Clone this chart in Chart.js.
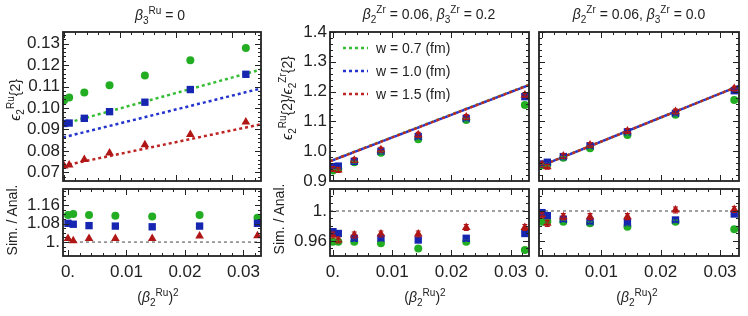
<!DOCTYPE html>
<html>
<head>
<meta charset="utf-8">
<script src="https://cdn.jsdelivr.net/npm/chart.js@4.4.1/dist/chart.umd.min.js"></script>
<style>
  html, body { margin: 0; padding: 0; background: #fff; }
  #wrap { position: relative; width: 748px; height: 316px; overflow: hidden;
          font-family: "Liberation Sans", Arial, sans-serif; color: #222; }
  canvas { position: absolute; left: 0; top: 0; }
  .t { position: absolute; white-space: nowrap; font-size: 14px; transform: translate(-50%, -50%); }
  .r { transform: translate(-50%, -50%) rotate(-90deg); }
  .t sub, .t sup { font-size: 10px; line-height: 0; }
  i { font-style: italic; }
</style>
</head>
<body>
<div id="wrap">
  <canvas id="c1t" width="748" height="316"></canvas>
  <canvas id="c1b" width="748" height="316"></canvas>
  <canvas id="c2t" width="748" height="316"></canvas>
  <canvas id="c2b" width="748" height="316"></canvas>
  <canvas id="c3t" width="748" height="316"></canvas>
  <canvas id="c3b" width="748" height="316"></canvas>

  <div class="t" style="left:160px;top:15px"><i>β</i><sub>3</sub><sup>Ru</sup> = 0</div>
  <div class="t" style="left:429px;top:14px"><i>β</i><sub>2</sub><sup>Zr</sup> = 0.06, <i>β</i><sub>3</sub><sup>Zr</sup> = 0.2</div>
  <div class="t" style="left:639px;top:14px"><i>β</i><sub>2</sub><sup>Zr</sup> = 0.06, <i>β</i><sub>3</sub><sup>Zr</sup> = 0.0</div>

  <div class="t r" style="left:15px;top:100px"><i>ϵ</i><sub>2</sub><sup>Ru</sup>{2}</div>
  <div class="t r" style="left:287px;top:98px"><i>ϵ</i><sub>2</sub><sup>Ru</sup>{2}/<i>ϵ</i><sub>2</sub><sup>Zr</sup>{2}</div>
  <div class="t r" style="left:12px;top:220px">Sim. / Anal.</div>
  <div class="t r" style="left:279px;top:219px">Sim. / Anal.</div>

  <div class="t" style="left:158px;top:297px">(<i>β</i><sub>2</sub><sup>Ru</sup>)<sup>2</sup></div>
  <div class="t" style="left:425px;top:297px">(<i>β</i><sub>2</sub><sup>Ru</sup>)<sup>2</sup></div>
  <div class="t" style="left:637px;top:297px">(<i>β</i><sub>2</sub><sup>Ru</sup>)<sup>2</sup></div>
</div>

<script>
// x values: (beta2^Ru)^2
const xRu = [0, 0.0009, 0.0036, 0.0081, 0.0144, 0.0225, 0.0324];
const widths = ['w = 0.7 (fm)', 'w = 1.0 (fm)', 'w = 1.5 (fm)'];

// panel 1 (beta3^Ru = 0): eps2^Ru{2}
const p1Green = [0.1036, 0.1049, 0.1072, 0.1106, 0.1151, 0.1223, 0.1280];
const p1Blue  = [0.0928, 0.0930, 0.0952, 0.0983, 0.1027, 0.1086, 0.1157];
const p1Red   = [0.0730, 0.0735, 0.0760, 0.0790, 0.0829, 0.0877, 0.0935];
const p1FitX  = [-0.0002, 0.0351];
const p1FitGreen = [0.0925, 0.1179];
const p1FitBlue  = [0.0863, 0.1091];
const p1FitRed   = [0.0731, 0.0924];
// panel 1 ratio sim / anal
const p1rGreen = [1.117, 1.121, 1.117, 1.114, 1.110, 1.117, 1.105];
const p1rBlue  = [1.081, 1.077, 1.071, 1.069, 1.066, 1.069, 1.081];
const p1rRed   = [1.016, 1.006, 1.016, 1.016, 1.016, 1.026, 1.027];

// panel 2 (beta2^Zr = 0.06, beta3^Zr = 0.2): ratio Ru/Zr
const p2Green = [0.935, 0.940, 0.963, 0.995, 1.040, 1.105, 1.155];
const p2Blue  = [0.948, 0.950, 0.966, 1.000, 1.049, 1.110, 1.183];
const p2Red   = [0.940, 0.937, 0.970, 1.005, 1.055, 1.115, 1.189];
const p2FitX  = [-0.0005, 0.0331];
const p2FitGreen = [0.967, 1.223];
const p2FitBlue  = [0.966, 1.222];
const p2FitRed   = [0.966, 1.222];
const p2rGreen = [0.959, 0.959, 0.959, 0.957, 0.950, 0.959, 0.948];
const p2rBlue  = [0.9724, 0.970, 0.9636, 0.9636, 0.9613, 0.9636, 0.970];
const p2rRed   = [0.968, 0.9613, 0.968, 0.9693, 0.9693, 0.978, 0.978];

// panel 3 (beta2^Zr = 0.06, beta3^Zr = 0.0)
const p3Green = [0.953, 0.955, 0.978, 1.010, 1.054, 1.122, 1.172];
const p3Blue  = [0.957, 0.963, 0.982, 1.018, 1.065, 1.127, 1.203];
const p3Red   = [0.955, 0.948, 0.984, 1.021, 1.068, 1.133, 1.210];
const p3FitX  = [-0.0005, 0.0332];
const p3FitGreen = [0.948, 1.219];
const p3FitBlue  = [0.948, 1.219];
const p3FitRed   = [0.948, 1.219];
const p3rGreen = [0.9858, 0.986, 0.9858, 0.9836, 0.979, 0.9858, 0.9756];
const p3rBlue  = [0.9978, 0.9938, 0.989, 0.9858, 0.9844, 0.988, 0.996];
const p3rRed   = [0.9947, 0.9836, 0.9924, 0.9924, 0.9924, 1.0013, 1.002];

// error bar half sizes [green, blue, red]
const errTop   = [0.004, 0.005, 0.008];
const errRatio = [0.002, 0.003, 0.004];

// tick labels
const xTickVals = [0, 0.01, 0.02, 0.03];
const xTickText = ['0.', '0.01', '0.02', '0.03'];
const y1TickVals = [0.07, 0.08, 0.09, 0.10, 0.11, 0.12, 0.13];
const y1TickText = ['0.07', '0.08', '0.09', '0.10', '0.11', '0.12', '0.13'];
const y2TickVals = [0.9, 1.0, 1.1, 1.2, 1.3, 1.4];
const y2TickText = ['0.9', '1.0', '1.1', '1.2', '1.3', '1.4'];
const r1TickVals = [1, 1.08, 1.16];
const r1TickText = ['1.', '1.08', '1.16'];
const r2TickVals = [0.96, 1];
const r2TickText = ['0.96', '1.'];

const W = 748, H = 316;
const pointColors = ['#23ad23', '#1626b0', '#b01616'];
const lineColors = ['#36bd36', '#2434cc', '#bd2424'];
const shapes = ['circle', 'rect', 'triangle'];
const radii = [4, 5.2, 5];
const font = { family: '"Liberation Sans", Arial, sans-serif', size: 17 };

function pts(vals, i, err) {
  return {
    data: xRu.map((x, k) => ({ x, y: vals[k] })),
    showLine: false, pointStyle: shapes[i], pointRadius: radii[i],
    backgroundColor: pointColors[i], borderColor: pointColors[i], borderWidth: 0,
    order: 3 - i, err: err ? err[i] : 0, errColor: pointColors[i]
  };
}

function fit(xs, ys, color, width, dash, offset, order) {
  return {
    data: xs.map((x, k) => ({ x, y: ys[k] })),
    showLine: true, pointRadius: 0, borderColor: color, borderWidth: width,
    borderDash: dash, borderDashOffset: offset || 0, order: order || 10, fill: false
  };
}

function ticksBetween(min, max, step) {
  const out = [];
  for (let v = Math.ceil(min / step - 1e-6) * step; v <= max + 1e-9; v += step) out.push(v);
  return out;
}

// frame with inward major/minor ticks, drawn from the scales
const framePlugin = {
  id: 'frame',
  afterDraw(chart, args, o) {
    const { ctx, chartArea: a, scales: { x, y } } = chart;
    ctx.save();
    ctx.strokeStyle = '#222';
    ctx.lineWidth = 1;
    const drawX = (vals, len) => vals.forEach(v => {
      const px = Math.round(x.getPixelForValue(v)) + 0.5;
      if (px < a.left || px > a.right) return;
      ctx.beginPath();
      ctx.moveTo(px, a.bottom); ctx.lineTo(px, a.bottom - len);
      ctx.moveTo(px, a.top); ctx.lineTo(px, a.top + len);
      ctx.stroke();
    });
    const drawY = (vals, len) => vals.forEach(v => {
      const py = Math.round(y.getPixelForValue(v)) + 0.5;
      if (py < a.top || py > a.bottom) return;
      ctx.beginPath();
      ctx.moveTo(a.left, py); ctx.lineTo(a.left + len, py);
      ctx.moveTo(a.right, py); ctx.lineTo(a.right - len, py);
      ctx.stroke();
    });
    drawX(ticksBetween(x.min, x.max, o.xMinor), 3);
    drawX(ticksBetween(x.min, x.max, 0.01), 6);
    drawY(ticksBetween(y.min, y.max, o.yMinor), 3);
    drawY(o.yMajor, 6);
    ctx.lineWidth = 1.8;
    ctx.strokeRect(a.left, a.top, a.right - a.left, a.bottom - a.top);

    // legend inside the plot
    if (o.legend) {
      o.legend.forEach((txt, i) => {
        const ly = a.top + 16 + i * 23;
        ctx.strokeStyle = lineColors[i];
        ctx.lineWidth = 2.5;
        ctx.setLineDash([3, 3]);
        ctx.beginPath(); ctx.moveTo(a.left + 13, ly); ctx.lineTo(a.left + 38, ly); ctx.stroke();
        ctx.setLineDash([]);
        ctx.fillStyle = '#222';
        ctx.font = '14px "Liberation Sans", Arial, sans-serif';
        ctx.textBaseline = 'middle';
        ctx.fillText(txt, a.left + 46, ly + 1);
      });
    }
    ctx.restore();
  }
};

// vertical error bars from the dataset's err value
const errPlugin = {
  id: 'errbars',
  afterDatasetsDraw(chart) {
    const { ctx, scales: { y } } = chart;
    ctx.save();
    chart.data.datasets.forEach((ds, di) => {
      if (!ds.err) return;
      const meta = chart.getDatasetMeta(di);
      ctx.strokeStyle = ds.errColor;
      ctx.lineWidth = 1.2;
      meta.data.forEach((p, k) => {
        const v = ds.data[k].y;
        const y0 = y.getPixelForValue(v - ds.err), y1 = y.getPixelForValue(v + ds.err);
        ctx.beginPath();
        ctx.moveTo(p.x, y0); ctx.lineTo(p.x, y1);
        ctx.moveTo(p.x - 2.5, y0); ctx.lineTo(p.x + 2.5, y0);
        ctx.moveTo(p.x - 2.5, y1); ctx.lineTo(p.x + 2.5, y1);
        ctx.stroke();
      });
    });
    ctx.restore();
  }
};

function panel(id, box, c) {
  const [L, T, R, B] = box;
  const yw = 60, xh = 30;
  new Chart(document.getElementById(id), {
    type: 'scatter',
    data: { datasets: c.datasets },
    options: {
      responsive: false,
      animation: false,
      devicePixelRatio: 1,
      layout: { padding: { left: L - yw, top: T, right: W - R, bottom: H - B - xh } },
      plugins: {
        legend: { display: false },
        tooltip: { enabled: false },
        frame: { xMinor: 0.002, yMinor: c.yMinor, yMajor: c.yTicks, legend: c.legend }
      },
      scales: {
        x: {
          type: 'linear', min: c.xMin, max: c.xMax,
          grid: { display: false, drawTicks: false }, border: { display: false },
          ticks: { display: !!c.xLabels, autoSkip: false, maxRotation: 0, padding: 6, font, color: '#222',
                   callback: (v, i) => xTickText[i] },
          afterBuildTicks: s => { s.ticks = xTickVals.map(v => ({ value: v })); },
          afterFit: s => { s.height = xh; s.paddingLeft = 0; s.paddingRight = 0; }
        },
        y: {
          type: 'linear', min: c.yMin, max: c.yMax,
          grid: { display: false, drawTicks: false }, border: { display: false },
          ticks: { display: !!c.yLabels, autoSkip: false, padding: 3, font, color: '#222',
                   callback: (v, i) => c.yText[i] },
          afterBuildTicks: s => { s.ticks = c.yTicks.map(v => ({ value: v })); },
          afterFit: s => { s.width = yw; s.paddingTop = 0; s.paddingBottom = 0; }
        }
      }
    },
    plugins: [errPlugin, framePlugin]
  });
}

const unityColor = '#8a8a8a';

// panel 1 top
panel('c1t', [63, 32, 261, 181], {
  xMin: -0.0002, xMax: 0.0351, yMin: 0.066, yMax: 0.1354,
  yTicks: y1TickVals, yText: y1TickText, yMinor: 0.002, yLabels: true,
  datasets: [
    fit(p1FitX, p1FitGreen, lineColors[0], 2.5, [3, 3]),
    fit(p1FitX, p1FitBlue, lineColors[1], 2.5, [3, 3]),
    fit(p1FitX, p1FitRed, lineColors[2], 2.5, [3, 3]),
    pts(p1Green, 0), pts(p1Blue, 1), pts(p1Red, 2)
  ]
});
// panel 1 bottom
panel('c1b', [63, 189, 261, 256], {
  xMin: -0.00085, xMax: 0.033, yMin: 0.94, yMax: 1.229,
  yTicks: r1TickVals, yText: r1TickText, yMinor: 0.02, yLabels: true, xLabels: true,
  datasets: [
    fit([0, 0.033], [1, 1], unityColor, 1.6, [3, 3]),
    pts(p1rGreen, 0), pts(p1rBlue, 1), pts(p1rRed, 2)
  ]
});
// panel 2 top: fits nearly coincide, red drawn over green, blue fills the gaps
panel('c2t', [330, 32, 529, 181], {
  xMin: -0.0005, xMax: 0.0331, yMin: 0.9, yMax: 1.4,
  yTicks: y2TickVals, yText: y2TickText, yMinor: 0.02, yLabels: true, legend: widths,
  datasets: [
    fit(p2FitX, p2FitGreen, lineColors[0], 2.5, [3, 3], 0, 12),
    fit(p2FitX, p2FitBlue, lineColors[1], 2.5, [3, 3], 3, 11),
    fit(p2FitX, p2FitRed, lineColors[2], 2.5, [3, 3], 0, 10),
    pts(p2Green, 0, errTop), pts(p2Blue, 1, errTop), pts(p2Red, 2, errTop)
  ]
});
// panel 2 bottom
panel('c2b', [330, 189, 529, 256], {
  xMin: -0.0005, xMax: 0.0331, yMin: 0.94, yMax: 1.0293,
  yTicks: r2TickVals, yText: r2TickText, yMinor: 0.01, yLabels: true, xLabels: true,
  datasets: [
    fit([-0.0005, 0.0331], [1, 1], unityColor, 1.6, [3, 3]),
    pts(p2rGreen, 0, errRatio), pts(p2rBlue, 1, errRatio), pts(p2rRed, 2, errRatio)
  ]
});
// panel 3 top
panel('c3t', [539, 32, 739, 181], {
  xMin: -0.0005, xMax: 0.0332, yMin: 0.9, yMax: 1.4,
  yTicks: y2TickVals, yText: y2TickText, yMinor: 0.02,
  datasets: [
    fit(p3FitX, p3FitGreen, lineColors[0], 2.5, [3, 3], 0, 12),
    fit(p3FitX, p3FitBlue, lineColors[1], 2.5, [3, 3], 3, 11),
    fit(p3FitX, p3FitRed, lineColors[2], 2.5, [3, 3], 0, 10),
    pts(p3Green, 0, errTop), pts(p3Blue, 1, errTop), pts(p3Red, 2, errTop)
  ]
});
// panel 3 bottom
panel('c3b', [539, 189, 739, 256], {
  xMin: -0.0005, xMax: 0.0332, yMin: 0.94, yMax: 1.0293,
  yTicks: r2TickVals, yText: r2TickText, yMinor: 0.01, xLabels: true,
  datasets: [
    fit([-0.0005, 0.0332], [1, 1], unityColor, 1.6, [3, 3]),
    pts(p3rGreen, 0, errRatio), pts(p3rBlue, 1, errRatio), pts(p3rRed, 2, errRatio)
  ]
});
</script>
</body>
</html>
